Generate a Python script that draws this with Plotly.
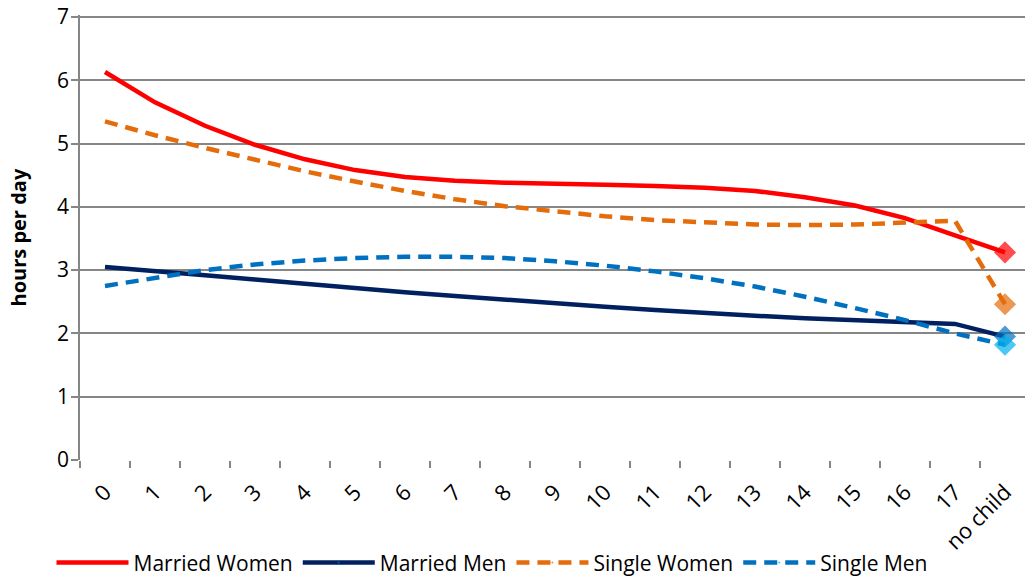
import plotly.graph_objects as go

categories = [str(i) for i in range(18)] + ["no child"]

married_women = [6.13, 5.65, 5.28, 4.98, 4.75, 4.58, 4.47, 4.41, 4.38, 4.37,
                 4.35, 4.33, 4.30, 4.25, 4.15, 4.02, 3.82, 3.55, 3.28]
married_men = [3.05, 2.99, 2.92, 2.85, 2.78, 2.71, 2.65, 2.59, 2.53, 2.47,
               2.42, 2.37, 2.32, 2.28, 2.24, 2.21, 2.18, 2.15, 1.95]
single_women = [5.35, 5.13, 4.93, 4.74, 4.56, 4.40, 4.25, 4.12, 4.01, 3.93,
                3.85, 3.79, 3.75, 3.72, 3.71, 3.72, 3.75, 3.78, 2.46]
single_men = [2.75, 2.88, 3.00, 3.09, 3.15, 3.19, 3.21, 3.21, 3.19, 3.14,
              3.07, 2.98, 2.87, 2.74, 2.58, 2.40, 2.21, 2.00, 1.82]

y_ticks = [0, 1, 2, 3, 4, 5, 6, 7]

series = [
    ("Married Women", married_women, "#FF0000", "solid", "#FF0000"),
    ("Married Men", married_men, "#002060", "solid", "#0070C0"),
    ("Single Women", single_women, "#E46C0A", "13px,8px", "#E46C0A"),
    ("Single Men", single_men, "#0070C0", "13px,8px", "#00B0F0"),
]

fig = go.Figure()
for name, vals, color, dash, mcolor in series:
    sizes = [0] * (len(vals) - 1) + [17]
    fig.add_trace(go.Scatter(
        x=categories, y=vals, name=name, mode="lines+markers",
        line=dict(color=color, width=4.5, dash=dash),
        marker=dict(symbol="diamond", size=sizes, color=mcolor, line=dict(width=0)),
        cliponaxis=False,
    ))

font = "Open Sans, Noto Sans, sans-serif"
fig.update_layout(
    width=1025, height=579,
    margin=dict(l=80, r=0, t=15, b=119),
    paper_bgcolor="white", plot_bgcolor="white",
    font=dict(family=font, size=20, color="black"),
    legend=dict(orientation="h", xref="container", yref="container",
                x=0.48, xanchor="center", y=0.028, yanchor="middle",
                font=dict(size=21), itemwidth=72, traceorder="normal"),
    showlegend=True,
    annotations=[dict(text="<b>hours per day</b>", textangle=-90,
                      xref="paper", yref="paper", x=0, y=0.5,
                      xanchor="center", yanchor="middle", xshift=-62,
                      showarrow=False, font=dict(size=20))],
)
fig.update_xaxes(
    type="category", range=[-0.5, 18.4], tickson="boundaries",
    ticks="outside", ticklen=7, tickcolor="#868686", tickwidth=1.5,
    showline=False, showgrid=False, zeroline=False, automargin=False,
    tickangle=-45, tickfont=dict(size=22), ticklabelstandoff=14,
)
fig.update_yaxes(
    range=[0, 7.03], tickvals=y_ticks, ticks="outside", ticklen=7,
    tickcolor="#868686", tickwidth=1.5, automargin=False,
    showline=True, linecolor="#868686", linewidth=1.5,
    showgrid=True, gridcolor="#868686", gridwidth=1.5, zeroline=False,
    tickfont=dict(size=21), ticklabelstandoff=-2, ticklabeloverflow="allow",
)
fig.write_html("out.html", config={"displayModeBar": False},
               post_script="document.body.style.margin='0';")
